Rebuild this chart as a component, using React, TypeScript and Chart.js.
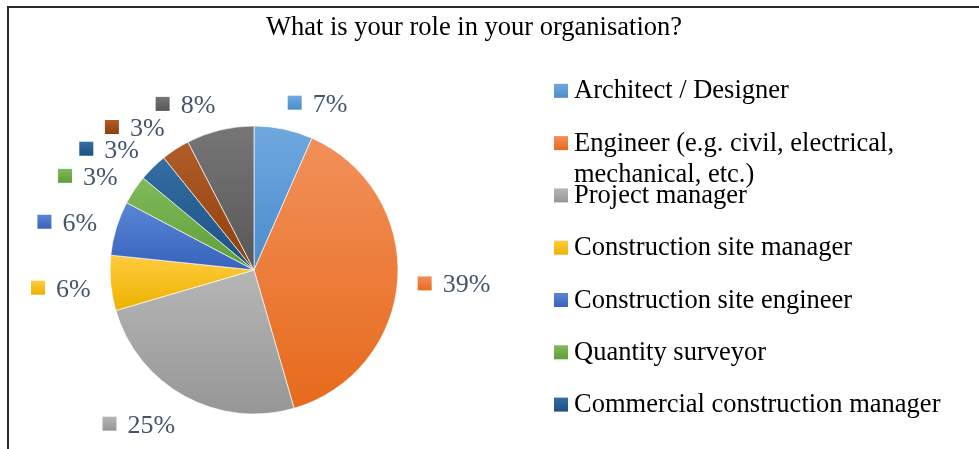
import React, { useEffect, useRef } from "react";
import { Chart, registerables } from "chart.js";

Chart.register(...registerables);

const TITLE = "What is your role in your organisation?";

const categories = [
  "Architect / Designer",
  "Engineer (e.g. civil, electrical, mechanical, etc.)",
  "Project manager",
  "Construction site manager",
  "Construction site engineer",
  "Quantity surveyor",
  "Commercial construction manager",
  "Contractor",
  "Other",
];

const shares = [6.6, 39.0, 25.0, 6.2, 6.1, 3.3, 3.2, 3.2, 7.6];

const baseColors = ["#5B9BD5", "#ED7D31", "#A5A5A5", "#FFC000", "#4472C4", "#70AD47", "#255E91", "#9E480E", "#636363"];
const topColors = ["#6FA8DE", "#F2905A", "#B6B6B6", "#FFCB3E", "#5A86D6", "#80BA5A", "#346EA2", "#B05D2A", "#767676"];
const bottomColors = ["#4A8CCD", "#E66A1B", "#969696", "#ECB200", "#3862BC", "#5F9E39", "#1C5083", "#8E3F08", "#575757"];

const SERIF = '"Liberation Serif", "Times New Roman", serif';

function vGrad(ctx: CanvasRenderingContext2D, top: number, bottom: number, c1: string, c2: string) {
  const g = ctx.createLinearGradient(0, top, 0, bottom);
  g.addColorStop(0, c1);
  g.addColorStop(1, c2);
  return g;
}

function arcProps(arc: any) {
  return arc.getProps(["x", "y", "startAngle", "endAngle", "outerRadius"], true);
}

function arcYRange(arc: any): [number, number] {
  const p = arcProps(arc);
  const ys = [p.y, p.y + Math.sin(p.startAngle) * p.outerRadius, p.y + Math.sin(p.endAngle) * p.outerRadius];
  for (let k = -2; k <= 2; k++) {
    const up = -Math.PI / 2 + 2 * Math.PI * k;
    if (up >= p.startAngle && up <= p.endAngle) ys.push(p.y - p.outerRadius);
    const dn = Math.PI / 2 + 2 * Math.PI * k;
    if (dn >= p.startAngle && dn <= p.endAngle) ys.push(p.y + p.outerRadius);
  }
  return [Math.min(...ys), Math.max(...ys)];
}

const framePlugin = {
  id: "frame",
  beforeDraw(chart: any) {
    const ctx = chart.ctx as CanvasRenderingContext2D;
    ctx.save();
    ctx.fillStyle = "#ffffff";
    ctx.fillRect(0, 0, chart.width, chart.height);
    ctx.fillStyle = "#2b2b2b";
    ctx.fillRect(7, 6, chart.width - 7, 2);
    ctx.fillRect(7, 6, 2, chart.height - 6);
    ctx.fillStyle = "#000000";
    ctx.font = "26.5px " + SERIF;
    ctx.textAlign = "center";
    ctx.textBaseline = "alphabetic";
    ctx.fillText(TITLE, 474, 35);
    ctx.restore();
  },
};

const gradientPlugin = {
  id: "sliceGradient",
  beforeDatasetsDraw(chart: any) {
    const meta = chart.getDatasetMeta(0);
    meta.data.forEach((arc: any, i: number) => {
      const [t, b] = arcYRange(arc);
      arc.options.backgroundColor = vGrad(chart.ctx, t, b, topColors[i], bottomColors[i]);
    });
  },
};

const labelPlugin = {
  id: "outsideLabels",
  afterDatasetsDraw(chart: any) {
    const ctx = chart.ctx as CanvasRenderingContext2D;
    const meta = chart.getDatasetMeta(0);
    const values = chart.data.datasets[0].data as number[];
    const total = values.reduce((a, b) => a + b, 0);
    ctx.save();
    ctx.font = "26px " + SERIF;
    ctx.textAlign = "left";
    ctx.textBaseline = "alphabetic";
    meta.data.forEach((arc: any, i: number) => {
      const p = arcProps(arc);
      const mid = (p.startAngle + p.endAngle) / 2;
      const c = Math.cos(mid);
      const s = Math.sin(mid);
      const r = p.outerRadius + 20;
      const px = p.x + c * r;
      const py = p.y + s * r;
      const text = Math.round((values[i] / total) * 100) + "%";
      const tw = ctx.measureText(text).width;
      const w = 25 + tw;
      const h = 18;
      const left = c >= 0 ? px : px - w;
      const cy = py + (s * h) / 2 + 2;
      ctx.fillStyle = vGrad(ctx, cy - 7, cy + 7, topColors[i], bottomColors[i]);
      ctx.fillRect(left, cy - 7, 14, 14);
      ctx.fillStyle = "#44546A";
      ctx.fillText(text, left + 25, cy + 9);
    });
    ctx.restore();
  },
};

function wrap(ctx: CanvasRenderingContext2D, text: string, maxW: number): string[] {
  const words = text.split(" ");
  const lines: string[] = [];
  let cur = "";
  for (const w of words) {
    const t = cur ? cur + " " + w : w;
    if (cur && ctx.measureText(t).width > maxW) {
      lines.push(cur);
      cur = w;
    } else {
      cur = t;
    }
  }
  if (cur) lines.push(cur);
  return lines;
}

const legendPlugin = {
  id: "sideLegend",
  afterDraw(chart: any) {
    const ctx = chart.ctx as CanvasRenderingContext2D;
    const labels = chart.data.labels as string[];
    ctx.save();
    ctx.beginPath();
    ctx.rect(540, 40, chart.width - 540, 395);
    ctx.clip();
    ctx.font = "26.5px " + SERIF;
    ctx.textAlign = "left";
    ctx.textBaseline = "alphabetic";
    labels.forEach((lab, i) => {
      const base = 98.3 + i * 52.3;
      if (base > 430) return;
      ctx.fillStyle = vGrad(ctx, base - 14.5, base - 0.5, topColors[i], bottomColors[i]);
      ctx.fillRect(554, base - 14.5, 14, 14);
      ctx.fillStyle = "#000000";
      wrap(ctx, lab, 380).forEach((ln, j) => {
        ctx.fillText(ln, 574, base + j * 31);
      });
    });
    ctx.restore();
  },
};

export default function App() {
  const ref = useRef<HTMLCanvasElement | null>(null);

  useEffect(() => {
    if (!ref.current) return;
    const chart = new Chart(ref.current, {
      type: "pie",
      data: {
        labels: categories,
        datasets: [
          {
            data: shares,
            backgroundColor: baseColors,
            borderColor: "rgba(255,255,255,0.65)",
            borderWidth: 1,
          },
        ],
      },
      options: {
        responsive: false,
        animation: false,
        devicePixelRatio: 1,
        radius: 144,
        layout: { padding: { left: 110, top: 126, right: 581, bottom: 35 } },
        plugins: {
          legend: { display: false },
          title: { display: false },
          tooltip: { enabled: false },
        },
      } as any,
      plugins: [framePlugin, gradientPlugin, labelPlugin, legendPlugin],
    });
    return () => chart.destroy();
  }, []);

  return (
    <div style={{ position: "absolute", left: 0, top: 0, width: 979, height: 449, overflow: "hidden", background: "#fff" }}>
      <canvas ref={ref} width={979} height={449} style={{ display: "block", width: 979, height: 449 }} />
    </div>
  );
}
